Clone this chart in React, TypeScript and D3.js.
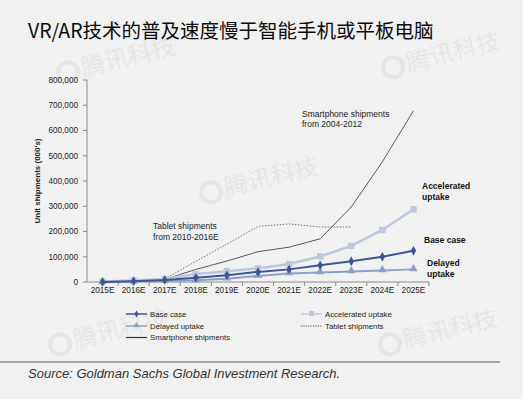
import React from 'react';
import * as d3 from 'd3';

const years = ['2015E', '2016E', '2017E', '2018E', '2019E', '2020E', '2021E', '2022E', '2023E', '2024E', '2025E'];
const baseCase = [0, 3000, 8000, 17000, 27000, 40000, 50000, 66000, 82000, 100000, 124000];
const accelerated = [1000, 6500, 12000, 32000, 43000, 54000, 71000, 101000, 143000, 206000, 288000];
const delayed = [0, 2000, 4000, 7000, 13000, 24000, 34000, 38000, 42000, 46000, 50000];
const smartphone: (number | null)[] = [null, null, 10000, 50000, 83000, 120000, 138000, 171000, 297000, 476000, 678000];
const tablet: (number | null)[] = [null, null, 12000, 82000, 150000, 220000, 230000, 218000, 218000, null, null];
const yTicks = [0, 100000, 200000, 300000, 400000, 500000, 600000, 700000, 800000];

const W = 523;
const H = 399;
const m = { left: 87, right: 429, top: 80, bottom: 282 };
const font = '"Liberation Sans", Arial, sans-serif';

const watermarks = [
  { x: 70, y: 80 },
  { x: 395, y: 75 },
  { x: 213, y: 200 },
  { x: 62, y: 352 },
  { x: 392, y: 352 },
];

export default function App() {
  const x = d3.scaleBand().domain(years).range([m.left, m.right]);
  const cx = (d: string) => (x(d) as number) + x.bandwidth() / 2;
  const y = d3.scaleLinear().domain([0, 800000]).range([m.bottom, m.top]);

  const line = d3
    .line<number | null>()
    .defined((d) => d !== null)
    .x((_, i) => cx(years[i]))
    .y((d) => y(d as number));

  const diamond = d3.symbol(d3.symbolDiamond, 26)();
  const triangle = d3.symbol(d3.symbolTriangle, 30)();

  return (
    <svg width={W} height={H} style={{ position: 'absolute', left: 0, top: 0 }} fontFamily={font}>
      <rect width={W} height={H} fill="#f1f1f1" />

      {watermarks.map((w, i) => (
        <g key={i} transform={`translate(${w.x},${w.y}) rotate(-14)`} opacity={0.045}>
          <circle cx={0} cy={-8} r={10} fill="none" stroke="#000" strokeWidth={4} />
          <text x={14} y={0} fontSize={24} fontFamily='"Noto Sans CJK SC"' fill="#000">
            腾讯科技
          </text>
        </g>
      ))}

      <text x={28} y={38} fontSize={19.5} fontFamily='"Noto Sans CJK SC", sans-serif' fill="#0a0a0a">
        VR/AR技术的普及速度慢于智能手机或平板电脑
      </text>

      {/* y axis */}
      <line x1={m.left} x2={m.left} y1={m.top} y2={m.bottom} stroke="#8a8a8a" />
      {yTicks.map((t) => (
        <g key={t}>
          <line x1={m.left - 4} x2={m.left} y1={y(t)} y2={y(t)} stroke="#8a8a8a" />
          <text x={78} y={y(t)} dy="0.35em" textAnchor="end" fontSize={8.2} fill="#222">
            {d3.format(',')(t)}
          </text>
        </g>
      ))}
      <text
        transform={`translate(40,${(m.top + m.bottom) / 2}) rotate(-90)`}
        textAnchor="middle"
        fontSize={8}
        fontWeight="bold"
        fill="#222"
      >
        Unit shipments (000's)
      </text>

      {/* x axis */}
      <line x1={m.left} x2={m.right} y1={m.bottom} y2={m.bottom} stroke="#8a8a8a" />
      {years.map((d) => (
        <g key={d}>
          <line x1={(x(d) as number) + x.bandwidth()} x2={(x(d) as number) + x.bandwidth()} y1={m.bottom} y2={m.bottom + 4} stroke="#8a8a8a" />
          <text x={cx(d)} y={m.bottom + 11} textAnchor="middle" fontSize={8.2} fill="#222">
            {d}
          </text>
        </g>
      ))}

      {/* comparison lines */}
      <path d={line(tablet) as string} fill="none" stroke="#555" strokeWidth={0.8} strokeDasharray="1.5,1.5" />
      <path d={line(smartphone) as string} fill="none" stroke="#333" strokeWidth={0.8} />

      {/* scenarios */}
      <path d={line(accelerated) as string} fill="none" stroke="#bcc6dc" strokeWidth={2.5} />
      {accelerated.map((v, i) => (
        <rect key={i} x={cx(years[i]) - 3.2} y={y(v) - 3.2} width={6.4} height={6.4} fill="#bcc6dc" />
      ))}
      <path d={line(delayed) as string} fill="none" stroke="#8d9fc8" strokeWidth={2} />
      {delayed.map((v, i) => (
        <path key={i} d={triangle as string} transform={`translate(${cx(years[i])},${y(v) - 0.5})`} fill="#8d9fc8" />
      ))}
      <path d={line(baseCase) as string} fill="none" stroke="#3c5699" strokeWidth={2} />
      {baseCase.map((v, i) => (
        <path key={i} d={diamond as string} transform={`translate(${cx(years[i])},${y(v)})`} fill="#3c5699" />
      ))}

      {/* annotations */}
      <g fontSize={8.5} fill="#222">
        <text x={302} y={117}>Smartphone shipments</text>
        <text x={302} y={127}>from 2004-2012</text>
        <text x={153} y={229}>Tablet shipments</text>
        <text x={153} y={240}>from 2010-2016E</text>
      </g>
      <g fontSize={8.5} fontWeight="bold" fill="#111">
        <text x={422} y={189}>Accelerated</text>
        <text x={422} y={200}>uptake</text>
        <text x={424} y={243}>Base case</text>
        <text x={427} y={266}>Delayed</text>
        <text x={427} y={277}>uptake</text>
      </g>

      {/* legend */}
      <g fontSize={7.8} fill="#222">
        <line x1={126} x2={147} y1={314} y2={314} stroke="#3c5699" strokeWidth={1.5} />
        <path d={d3.symbol(d3.symbolDiamond, 14)() as string} transform="translate(136.5,314)" fill="#3c5699" />
        <text x={150} y={314} dy="0.35em">Base case</text>
        <line x1={126} x2={147} y1={326} y2={326} stroke="#8d9fc8" strokeWidth={1.5} />
        <path d={d3.symbol(d3.symbolTriangle, 16)() as string} transform="translate(136.5,325.5)" fill="#8d9fc8" />
        <text x={150} y={326} dy="0.35em">Delayed uptake</text>
        <line x1={126} x2={147} y1={337.5} y2={337.5} stroke="#333" strokeWidth={1.2} />
        <text x={150} y={337.5} dy="0.35em">Smartphone shipments</text>

        <line x1={301} x2={322} y1={314} y2={314} stroke="#bcc6dc" strokeWidth={1.5} />
        <rect x={309} y={311} width={5} height={5} fill="#bcc6dc" />
        <text x={325} y={314} dy="0.35em">Accelerated uptake</text>
        <line x1={301} x2={322} y1={326} y2={326} stroke="#555" strokeWidth={1} strokeDasharray="1.2,1.2" />
        <text x={325} y={326} dy="0.35em">Tablet shipments</text>
      </g>

      <line x1={0} x2={500} y1={362} y2={362} stroke="#555" strokeWidth={1} />
      <text x={28} y={378} fontSize={13} fontStyle="italic" fill="#333">
        Source: Goldman Sachs Global Investment Research.
      </text>
    </svg>
  );
}
